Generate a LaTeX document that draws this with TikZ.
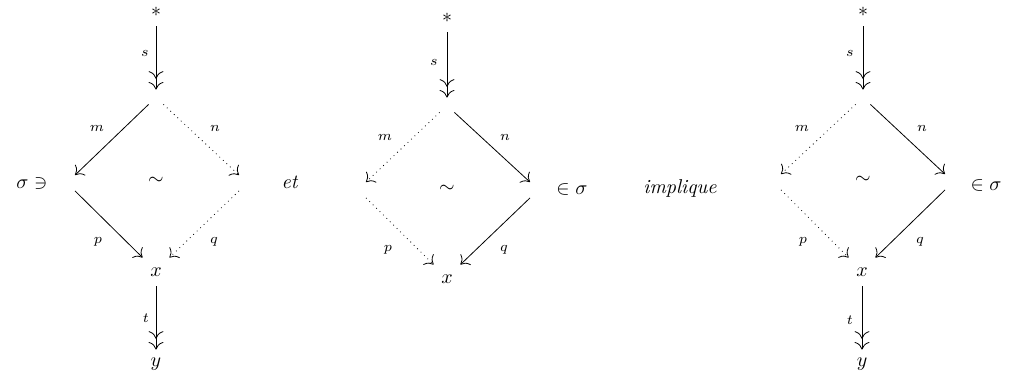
\documentclass[tikz,border=0pt]{standalone}
\usetikzlibrary{arrows.meta}
\begin{document}
\begin{tikzpicture}[x=0.5pt,y=-0.5pt,
  cmtip/.tip={Computer Modern Rightarrow[length=3.8pt,width=7.4pt]},
  obj/.style={inner sep=0pt, minimum width=13pt, minimum height=14pt},
  staro/.style={inner sep=0pt, minimum width=13pt},
  topv/.style={inner sep=0pt, minimum size=7pt},
  sidev/.style={inner sep=0pt, minimum width=0pt, minimum height=7.5pt},
  lab/.style={inner sep=0pt, font=\scriptsize},
  txt/.style={inner sep=0pt},
  arr/.style={-{cmtip}},
  darr/.style={-{cmtip[sep=1.6pt]cmtip}},
  sarr/.style={darr, shorten <=4.5pt},
  dotarr/.style={-{cmtip}, dotted}
]
\useasboundingbox (0,0) rectangle (1020,381);

% ---------- diagram 1 ----------
\node[staro] (st1) at (156,12) {$*$};
\node[topv] (tp1) at (156,97) {};
\node[sidev] (lf1) at (75,183) {};
\node[sidev] (rt1) at (239,183) {};
\node[obj] (x1) at (156,272) {$x$};
\node[obj] (y1) at (156,364) {$y$};
\node[txt] (sg1) at (32,183) {$\sigma\ni$};
\node[txt] (sim1) at (156,181) {$\sim$};
\draw[sarr] (st1) -- (tp1);
\draw[arr] (tp1.south west) -- (lf1.north);
\draw[dotarr] (tp1.south east) -- (rt1.north);
\draw[arr] (lf1.south) -- (x1.north west);
\draw[dotarr] (rt1.south) -- (x1.north east);
\draw[darr] (x1) -- (y1);
\node[lab] (ls1) at (145,53) {$s$};
\node[lab] (lm1) at (97,128) {$m$};
\node[lab] (ln1) at (215,128) {$n$};
\node[lab] (lp1) at (98,242) {$p$};
\node[lab] (lq1) at (214,242) {$q$};
\node[lab] (lt1) at (146,318) {$t$};

\node[txt, anchor=base] (et) at (290,188) {\textit{et}};

% ---------- diagram 2 ----------
\node[staro] (st2) at (447,18) {$*$};
\node[topv] (tp2) at (447,105) {};
\node[sidev] (lf2) at (366,190) {};
\node[sidev] (rt2) at (530,190) {};
\node[obj] (x2) at (447,279) {$x$};
\node[txt] (sg2) at (572,189) {$\in\sigma$};
\node[txt] (sim2) at (447,189) {$\sim$};
\draw[sarr] (st2) -- (tp2);
\draw[dotarr] (tp2.south west) -- (lf2.north);
\draw[arr] (tp2.south east) -- (rt2.north);
\draw[dotarr] (lf2.south) -- (x2.north west);
\draw[arr] (rt2.south) -- (x2.north east);
\node[lab] (ls2) at (434,62) {$s$};
\node[lab] (lm2) at (385,137) {$m$};
\node[lab] (ln2) at (505,137) {$n$};
\node[lab] (lp2) at (388,250) {$p$};
\node[lab] (lq2) at (504,250) {$q$};

\node[txt, anchor=base] (impl) at (680,193) {\textit{implique}};

% ---------- diagram 3 ----------
\node[staro] (st3) at (863,12) {$*$};
\node[topv] (tp3) at (863,97) {};
\node[sidev] (lf3) at (781,182) {};
\node[sidev] (rt3) at (945,182) {};
\node[obj] (x3) at (862,272) {$x$};
\node[obj] (y3) at (862,364) {$y$};
\node[txt] (sg3) at (986,185) {$\in\sigma$};
\node[txt] (sim3) at (863,180) {$\sim$};
\draw[sarr] (st3) -- (tp3);
\draw[dotarr] (tp3.south west) -- (lf3.north);
\draw[arr] (tp3.south east) -- (rt3.north);
\draw[dotarr] (lf3.south) -- (x3.north west);
\draw[arr] (rt3.south) -- (x3.north east);
\draw[darr] (x3) -- (y3);
\node[lab] (ls3) at (850,53) {$s$};
\node[lab] (lm3) at (802,128) {$m$};
\node[lab] (ln3) at (922,128) {$n$};
\node[lab] (lp3) at (803,242) {$p$};
\node[lab] (lq3) at (920,242) {$q$};
\node[lab] (lt3) at (850,320) {$t$};
\end{tikzpicture}
\end{document}
